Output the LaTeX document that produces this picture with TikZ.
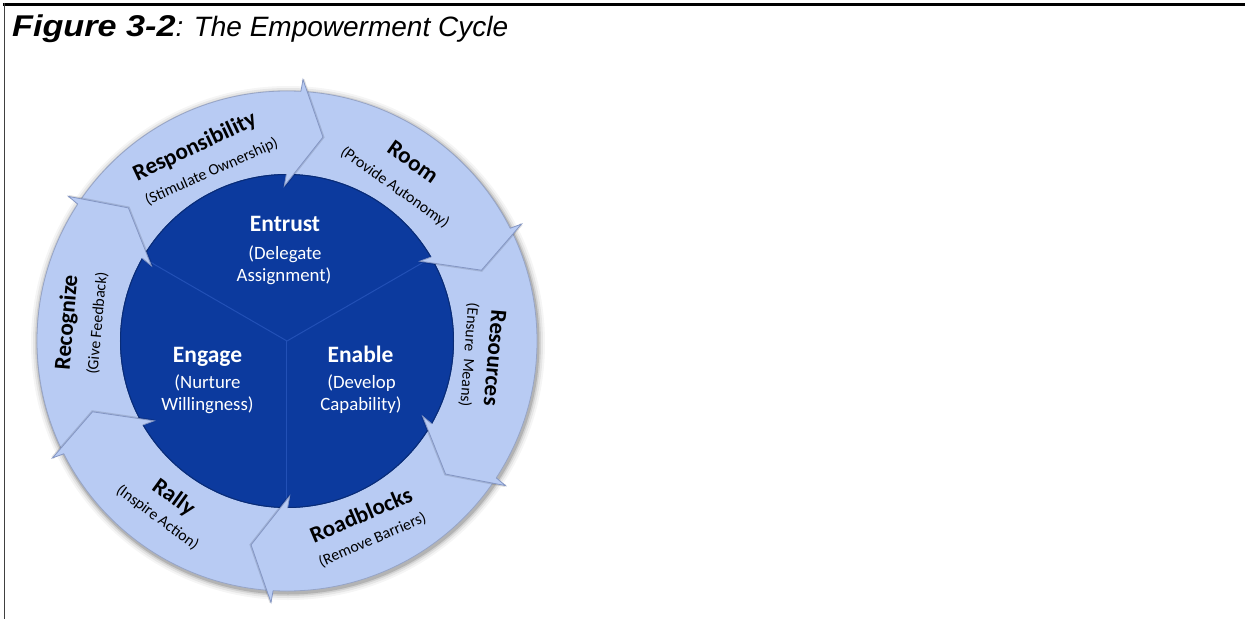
\documentclass[tikz,border=0pt]{standalone}
\usepackage{fontspec}
\setmainfont{Carlito}
\newfontfamily\titlefont{Liberation Sans}
\usetikzlibrary{calc}
\definecolor{ringblue}{RGB}{184,203,243}
\definecolor{ringedge}{RGB}{150,164,198}
\definecolor{headedge}{RGB}{132,150,196}
\definecolor{diskblue}{RGB}{12,58,158}
\definecolor{divider}{RGB}{34,80,182}
\begin{document}
\begin{tikzpicture}[x=1pt,y=1pt,
  ringbold/.style={font=\fontsize{23}{25}\selectfont\bfseries, inner sep=0pt},
  ringsub/.style={font=\fontsize{15.8}{18}\selectfont, inner sep=0pt},
  sectbold/.style={font=\fontsize{23.5}{26}\selectfont\bfseries, text=white, inner sep=0pt, anchor=base},
  sectsub/.style={font=\fontsize{18.8}{22}\selectfont, text=white, inner sep=0pt, anchor=base},
  headfill/.style={fill=ringblue},
  headline/.style={draw=headedge, line width=0.8pt, line join=miter},
]
\useasboundingbox (-287,-278) rectangle (958,341);
\fill[white] (-287,-278) rectangle (958,341);
% frame
\draw[line width=3pt] (-284,336.5) -- (958,336.5);
\draw[line width=1.5pt, black!75] (-282.5,338) -- (-282.5,-278);
% title
\node[anchor=base west, inner sep=0pt, font=\titlefont\fontsize{28}{34}\selectfont] (title) at (-275,304)
  {\scalebox{1.14}[1]{\fontsize{30}{34}\selectfont\textbf{\textit{Figure 3-2}}}\textit{: The Empowerment Cycle}};
% shadow
\foreach \i/\o in {7/0.04, 5/0.06, 3/0.09, 1.5/0.14}
  \fill[black, opacity=\o] (1,-2) circle ({250+\i});
% ring
\fill[ringblue, even odd rule] (0,0) circle (250) (0,0) circle (167);
\draw[ringedge, line width=0.8pt] (0,0) circle (250);
% disk
\fill[diskblue] (0,0) circle (167);
\draw[black!25!diskblue, line width=1pt] (0,0) circle (166.5);
\foreach \a in {30,150,270}
  \draw[divider, line width=1pt] (0,0) -- (\a:166);
% arrow heads
\foreach \b in {28,88,148,208,268,328} {
  \coordinate (po) at ({\b-1.5}:262);
  \coordinate (pt) at ({\b-8}:207);
  \coordinate (pi) at ({\b+3}:155);
  \draw[black, opacity=0.12, line width=3pt, shift={(0.8,-1)}] (po) -- (pt) -- (pi);
  \fill[headfill] (po) -- (pt) -- (pi) -- cycle;
  \draw[headline] ($(po)!0.112!(pi)$) -- (po) -- (pt) -- (pi) -- ($(po)!0.888!(pi)$);
}
% sector texts
\node[sectbold] (entrust) at (-2,110) {Entrust};
\node[sectsub] (entrustA) at (-2,82) {(Delegate};
\node[sectsub] (entrustB) at (-3,60) {Assignment)};
\node[sectbold] (engage) at (-79.5,-21) {Engage};
\node[sectsub] (engageA) at (-79.5,-47) {(Nurture};
\node[sectsub] (engageB) at (-79.5,-69) {Willingness)};
\node[sectbold] (enable) at (73.5,-21) {Enable};
\node[sectsub] (enableA) at (74.5,-47) {(Develop};
\node[sectsub] (enableB) at (74,-69) {Capability)};
% ring texts
\node[ringbold, rotate=25.4] (resp) at (115.4:214.7) {Responsibility};
\node[ringsub, rotate=24] (respsub) at (114:185.3) {(Stimulate Ownership)};
\node[ringbold, rotate=-35.1] (room) at (54.9:219) {Room};
\node[ringsub, rotate=-35.1] (roomsub) at (54.9:187.7) {(Provide Autonomy)};
\node[ringbold, rotate=-94.7] (res) at (-4.7:208.7) {Resources};
\node[ringsub, rotate=-94.4] (ressub) at (-4.4:182.5) {(Ensure\ \ Means)};
\node[ringbold, rotate=23.1] (road) at (-66.9:188.6) {Roadblocks};
\node[ringsub, rotate=23.25] (roadsub) at (-66.75:216.6) {(Remove Barriers)};
\node[ringbold, rotate=-35.9] (rally) at (234.1:193.7) {Rally};
\node[ringsub, rotate=-36.3] (rallysub) at (233.7:218.9) {(Inspire Action)};
\node[ringbold, rotate=85.2] (recog) at (175.2:220.3) {Recognize};
\node[ringsub, rotate=84.7] (recogsub) at (174.7:190.3) {(Give Feedback)};
\end{tikzpicture}
\end{document}
